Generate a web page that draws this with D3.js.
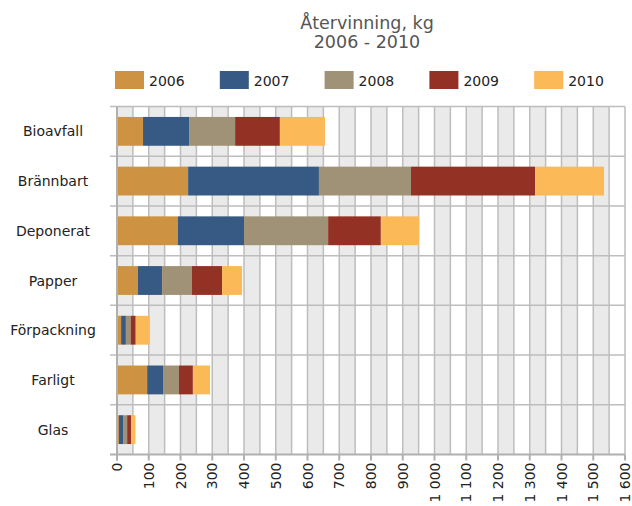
<!DOCTYPE html>
<html>
<head>
<meta charset="utf-8">
<script src="https://cdn.jsdelivr.net/npm/d3@7"></script>
<style>
  body { margin: 0; background: #fff; }
  text { font-family: "DejaVu Sans", Verdana, sans-serif; }
</style>
</head>
<body>
<svg id="chart" width="632" height="506"></svg>
<script>
// data
var categories = ["Bioavfall", "Brännbart", "Deponerat", "Papper", "Förpackning", "Farligt", "Glas"];
var years = ["2006", "2007", "2008", "2009", "2010"];
var v2006 = [82, 224, 192, 66, 13, 95, 6];
var v2007 = [145, 412, 208, 76, 15, 50, 13];
var v2008 = [145, 290, 265, 94, 15, 50, 13];
var v2009 = [141, 391, 166, 95, 16, 44, 13];
var v2010 = [142, 217, 120, 63, 44, 54, 13];
var xTicks = [0, 100, 200, 300, 400, 500, 600, 700, 800, 900, 1000, 1100, 1200, 1300, 1400, 1500, 1600];
var colors = ["#cd9343", "#365a84", "#a09276", "#943125", "#fbb957"];

var series = [v2006, v2007, v2008, v2009, v2010];

var svg = d3.select("#chart");
// note: "top" is taken by window.top, so use other names
var pLeft = 117, pRight = 625, pTop = 106.5, pBottom = 454.5;

var x = d3.scaleLinear().domain([0, 1600]).range([pLeft, pRight]);
var y = d3.scaleBand().domain(categories).range([pTop, pBottom]).paddingInner(0.42).paddingOuter(0.21);
var yb = d3.scaleBand().domain(categories).range([pTop, pBottom]);

// alternating bands every 50
var bands = d3.range(0, 1600, 50);
svg.append("g").selectAll("rect")
  .data(bands.filter((d, i) => i % 2 == 0))
  .enter().append("rect")
  .attr("x", d => x(d))
  .attr("y", pTop)
  .attr("width", x(50) - x(0))
  .attr("height", pBottom - pTop)
  .attr("fill", "#eaeaea");

// vertical grid
svg.append("g").selectAll("line")
  .data(bands.concat([1600]).slice(1))
  .enter().append("line")
  .attr("x1", d => x(d)).attr("x2", d => x(d))
  .attr("y1", pTop).attr("y2", pBottom)
  .attr("stroke", "#bdbdbd")
  .attr("stroke-width", 1.5);

// horizontal grid at category boundaries
svg.append("g").selectAll("line")
  .data(categories)
  .enter().append("line")
  .attr("x1", pLeft - 7).attr("x2", pRight)
  .attr("y1", d => yb(d)).attr("y2", d => yb(d))
  .attr("stroke", "#bdbdbd")
  .attr("stroke-width", 1.5);

// stacked bars
var stackData = categories.map((c, i) => {
  var row = { cat: c };
  years.forEach((yr, j) => row[yr] = series[j][i]);
  return row;
});
var stacked = d3.stack().keys(years)(stackData);

svg.append("g").selectAll("g")
  .data(stacked)
  .enter().append("g")
  .attr("fill", (d, i) => colors[i])
  .selectAll("rect")
  .data(d => d)
  .enter().append("rect")
  .attr("x", d => x(d[0]))
  .attr("y", d => y(d.data.cat))
  .attr("width", d => x(d[1]) - x(d[0]))
  .attr("height", y.bandwidth());

// axes lines
svg.append("line")
  .attr("x1", pLeft).attr("x2", pLeft)
  .attr("y1", pTop).attr("y2", pBottom + 6)
  .attr("stroke", "#b0b0b0").attr("stroke-width", 2);
svg.append("line")
  .attr("x1", pLeft - 7).attr("x2", pRight)
  .attr("y1", pBottom).attr("y2", pBottom)
  .attr("stroke", "#b0b0b0").attr("stroke-width", 2);

// x ticks + labels
var fmt = d => d >= 1000 ? Math.floor(d / 1000) + "\u00a0" + d3.format("03")(d % 1000) : String(d);
var xt = svg.append("g").selectAll("g")
  .data(xTicks)
  .enter().append("g")
  .attr("transform", d => "translate(" + x(d) + "," + pBottom + ")");
xt.append("line").attr("y2", 6).attr("stroke", "#b0b0b0").attr("stroke-width", 2);
xt.append("text")
  .attr("transform", "translate(5,8) rotate(-90)")
  .attr("text-anchor", "end")
  .attr("font-size", 14)
  .attr("fill", "#222")
  .text(fmt);

// category labels
svg.append("g").selectAll("text")
  .data(categories)
  .enter().append("text")
  .attr("x", 53)
  .attr("y", d => yb(d) + yb.bandwidth() / 2 + 5)
  .attr("text-anchor", "middle")
  .attr("font-size", 14)
  .attr("fill", "#222")
  .text(d => d);

// title
svg.append("text")
  .attr("x", 367).attr("y", 29)
  .attr("text-anchor", "middle")
  .attr("font-size", 17.5)
  .attr("fill", "#555")
  .text("Återvinning, kg");
svg.append("text")
  .attr("x", 367).attr("y", 48)
  .attr("text-anchor", "middle")
  .attr("font-size", 17.5)
  .attr("fill", "#555")
  .text("2006 - 2010");

// legend
var lg = svg.append("g").selectAll("g")
  .data(years)
  .enter().append("g")
  .attr("transform", (d, i) => "translate(" + (115 + i * 104.8) + ",71)");
lg.append("rect")
  .attr("width", 29).attr("height", 18)
  .attr("fill", (d, i) => colors[i]);
lg.append("text")
  .attr("x", 34).attr("y", 14.5)
  .attr("font-size", 14)
  .attr("fill", "#222")
  .text(d => d);
</script>
</body>
</html>
